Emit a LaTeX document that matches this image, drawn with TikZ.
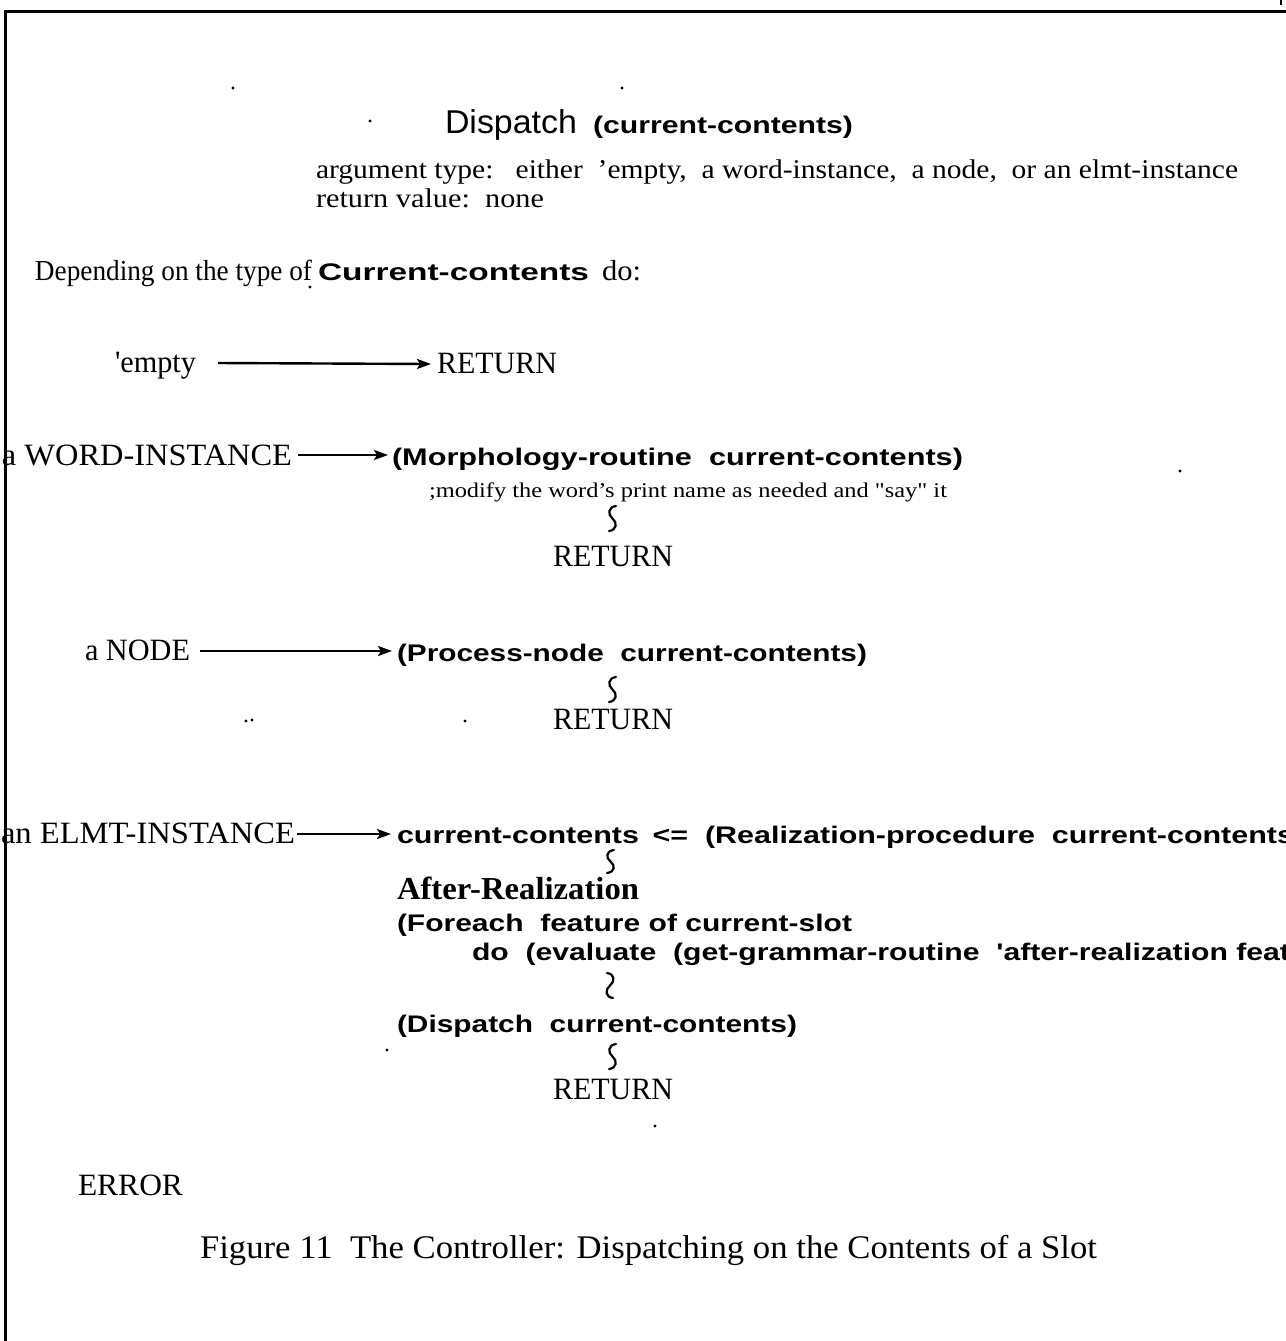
\documentclass[tikz,border=0pt]{standalone}
\usepackage{fontspec}
\setmainfont{Liberation Serif}
\newfontfamily\hv{Liberation Sans}
\usepackage{graphicx}
\usetikzlibrary{arrows.meta,calc}

% text squeezed or stretched to a given width (in 0.5pt units), height kept
\newcommand\fw[2]{\resizebox{\dimexpr #1pt/2\relax}{\height}{#2}}
% type sizes
\newcommand\serA{\fontsize{15.5}{18}\selectfont}
\newcommand\serB{\fontsize{13.5}{16}\selectfont}
\newcommand\serC{\fontsize{10.5}{12}\selectfont}
\newcommand\serD{\fontsize{16.5}{19}\selectfont}
\newcommand\serE{\bfseries\fontsize{16}{19}\selectfont}
\newcommand\serF{\fontsize{14.5}{17}\selectfont}
\newcommand\sanA{\hv\bfseries\fontsize{12}{14}\selectfont}
\newcommand\sanT{\hv\fontsize{16.5}{19}\selectfont}

% vertical squiggles joining one step to the next
\newcommand\sqS[2]{\draw[squig] (#1) .. controls +(-8,1) and +(-5,-4) .. ($(#1)!0.5!(#2)$) .. controls +(5,4) and +(8,-1) .. (#2);}
\newcommand\sqZ[2]{\draw[squig] (#1) .. controls +(8,1) and +(5,-4) .. ($(#1)!0.5!(#2)$) .. controls +(-5,4) and +(-8,-1) .. (#2);}

\begin{document}
\begin{tikzpicture}[x=0.5pt,y=-0.5pt,
  txt/.style={inner sep=0pt, outer sep=0pt, anchor=base west},
  arr/.style={line width=1.2pt, -{Stealth[length=7pt,width=5pt,inset=1.5pt]}},
  squig/.style={line width=1.1pt, line cap=round},
  speck/.style={fill=black}]
\useasboundingbox (0,0) rectangle (1286,1341);
\fill[white] (0,0) rectangle (1286,1341);
\clip (0,0) rectangle (1286,1341);

% frame
\draw[line width=1.5pt] (5,1341) -- (5,11) -- (1286,11);
\draw[line width=0.8pt] (1281,0) -- (1281,5);

% heading
\node[txt] (dA) at (445,133) {\fw{132}{\sanT Dispatch}};
\node[txt] (dB) at (593,133) {\fw{260}{\sanA (current-contents)}};
\node[txt] (arg) at (316,178) {\fw{922}{\serB argument type:\ \ \ either\ \ 'empty,\ \ a word-instance,\ \ a node,\ \ or an elmt-instance}};
\node[txt] (rv) at (316,207) {\fw{228}{\serB return value:\ \ none}};

\node[txt] (dep1) at (35,280) {\fw{277}{\serF Depending on the type of}};
\node[txt] (dep2) at (318,280) {\fw{271}{\sanA Current-contents}};
\node[txt] (dep3) at (602,280) {\fw{39}{\serF do:}};

% 'empty
\node[txt] (emp) at (115,372) {\fw{81}{\serA \textquotesingle empty}};
\node[txt] (r1) at (437,373) {\fw{120}{\serA RETURN}};
\draw[arr] ([shift={(22,-9)}]emp.base east) -- ([shift={(-6,-9)}]r1.base west);

% word-instance
\node[txt] (wi) at (2,465) {\fw{290}{\serA a WORD-INSTANCE}};
\node[txt] (mo) at (392,465) {\fw{571}{\sanA (Morphology-routine\ \ current-contents)}};
\node[txt] (nt) at (429,497) {\fw{518}{\serC ;modify the word's print name as needed and \textquotedbl say\textquotedbl{} it}};
\node[txt] (r2) at (553,566) {\fw{120}{\serA RETURN}};
\draw[arr] ([shift={(6,-10)}]wi.base east) -- ([shift={(-4,-10)}]mo.base west);
\coordinate (s1a) at (616,506);
\coordinate (s1b) at (609,531);
\sqS{s1a}{s1b}

% node
\node[txt] (nd) at (85,660) {\fw{105}{\serA a NODE}};
\node[txt] (pn) at (397,661) {\fw{470}{\sanA (Process-node\ \ current-contents)}};
\node[txt] (r3) at (553,729) {\fw{120}{\serA RETURN}};
\draw[arr] ([shift={(10,-9)}]nd.base east) -- ([shift={(-5,-10)}]pn.base west);
\coordinate (s2a) at (616,677);
\coordinate (s2b) at (609,702);
\sqS{s2a}{s2b}

% elmt-instance
\node[txt] (el) at (1,843) {\fw{294}{\serA an ELMT-INSTANCE}};
\node[txt] (rp) at (397,843) {\fw{897}{\sanA current-contents \,<=\ \ (Realization-procedure\ \ current-contents}};
\draw[arr] ([shift={(2,-9)}]el.base east) -- ([shift={(-6,-9)}]rp.base west);
\coordinate (s3a) at (614,850);
\coordinate (s3b) at (607,873);
\sqS{s3a}{s3b}
\node[txt] (ar) at (397,899) {\fw{242}{\serE After-Realization}};
\node[txt] (fe) at (397,931) {\fw{455}{\sanA (Foreach\ \ feature of current-slot}};
\node[txt] (ev) at (472,960) {\fw{818}{\sanA do\ \ (evaluate\ \ (get-grammar-routine\ \ 'after-realization feat}};
\coordinate (s4a) at (607,973);
\coordinate (s4b) at (613,998);
\sqZ{s4a}{s4b}
\node[txt] (dc) at (397,1032) {\fw{400}{\sanA (Dispatch\ \ current-contents)}};
\coordinate (s5a) at (616,1044);
\coordinate (s5b) at (609,1069);
\sqS{s5a}{s5b}
\node[txt] (r4) at (553,1099) {\fw{120}{\serA RETURN}};

% otherwise
\node[txt] (er) at (78,1195) {\fw{105}{\serA ERROR}};

% caption
\node[txt] (cap) at (200,1258) {\fw{897}{\serD Figure 11\ \ The Controller: Dispatching on the Contents of a Slot}};

% stray specks of the print
\foreach \p in {(370,121),(622,88),(233,88),(310,287),(246,721),(252,720),(465,721),(1180,471),(1240,955),(387,1050),(655,1126)}
  \fill \p circle (1.6);
\end{tikzpicture}
\end{document}
